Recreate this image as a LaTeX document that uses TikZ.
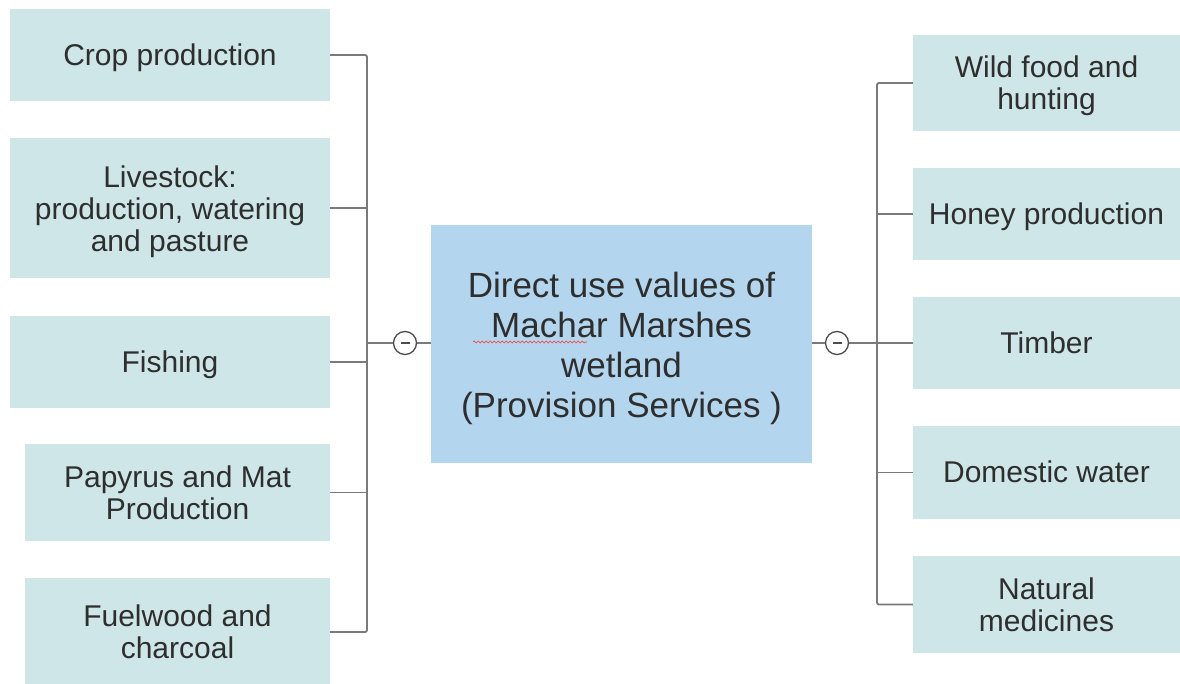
\documentclass[tikz,border=0pt]{standalone}
\usepackage{fontspec}
\setmainfont{Liberation Sans}
\usetikzlibrary{decorations.pathmorphing}
\definecolor{leafbg}{HTML}{CEE6E8}
\definecolor{rootbg}{HTML}{B3D6EE}
\definecolor{txt}{HTML}{2E2E2E}
\definecolor{conn}{HTML}{7A7A7A}
\tikzset{
  leaf/.style={rectangle, fill=leafbg, inner sep=0pt, align=center, text=txt,
    font=\fontsize{30}{32}\selectfont,
    execute at begin node={\rule{0pt}{0.905em}},
    execute at end node={\rule[-0.212em]{0pt}{0pt}}},
  twoline/.style={leaf, execute at begin node={\rule{0pt}{\dimexpr0.905em+33pt\relax}}},
  threeline/.style={leaf, execute at begin node={\rule{0pt}{\dimexpr0.905em+66pt\relax}}},
  root/.style={rectangle, fill=rootbg, inner sep=0pt, align=center, text=txt,
    font=\fontsize{35}{40}\selectfont, minimum width=381pt, minimum height=238pt,
    execute at begin node={\rule{0pt}{\dimexpr0.905em+123pt\relax}},
    execute at end node={\rule[-0.212em]{0pt}{0pt}}},
  toggle/.style={circle, draw=txt!85, fill=white, line width=1.3pt, minimum size=23pt, inner sep=0pt},
  link/.style={draw=conn, line width=1.8pt}
}
\begin{document}
\begin{tikzpicture}[x=1pt,y=-1pt]
\useasboundingbox (0,0) rectangle (1180,684);
\fill[white] (0,0) rectangle (1180,684);
% left leaves
\node[leaf, minimum width=320pt, minimum height=92pt] (crop) at (170,55) {Crop production};
\node[threeline, minimum width=320pt, minimum height=140pt] (live) at (170,208) {Livestock:\\production, watering\\and pasture};
\node[leaf, minimum width=320pt, minimum height=92pt] (fish) at (170,362) {Fishing};
\node[twoline, minimum width=305pt, minimum height=97pt] (papy) at (177.5,492.5) {Papyrus and Mat\\Production};
\node[twoline, minimum width=305pt, minimum height=108pt] (fuel) at (177.5,632) {Fuelwood and\\charcoal};
% right leaves
\node[twoline, minimum width=267pt, minimum height=96pt] (wild) at (1046.5,83) {Wild food and\\hunting};
\node[leaf, minimum width=267pt, minimum height=92pt] (honey) at (1046.5,214) {Honey production};
\node[leaf, minimum width=267pt, minimum height=92pt] (timber) at (1046.5,343) {Timber};
\node[leaf, minimum width=267pt, minimum height=93pt] (dom) at (1046.5,472.5) {Domestic water};
\node[twoline, minimum width=267pt, minimum height=97pt] (nat) at (1046.5,604.5) {Natural\\medicines};
% root
\node[root] (center) at (621.5,344) {Direct use values of\\Machar Marshes\\wetland\\(Provision Services )};
\draw[red!80, line width=0.6pt, decorate, decoration={snake, amplitude=1pt, segment length=4pt}] (473,342) -- (587,342);
% toggles
\node[toggle] (tl) at (405,343) {};
\node[toggle] (tr) at (837,343) {};
\draw[txt!85, line width=1.3pt] ([xshift=-4.5pt]tl.center) -- ([xshift=4.5pt]tl.center);
\draw[txt!85, line width=1.3pt] ([xshift=-4.5pt]tr.center) -- ([xshift=4.5pt]tr.center);
% trunks
\coordinate (lt) at (367,343);
\coordinate (rt) at (877,343);
\draw[link, rounded corners=2pt] (crop.east) -| (lt) |- (fuel.east);
\draw[link] (live.east) -- (live.east -| lt);
\draw[link] (fish.east) -- (fish.east -| lt);
\draw[link] (papy.east) -- (papy.east -| lt);
\draw[link] (lt) -- (tl.west);
\draw[link] (tl.east) -- (center.west |- tl.east);
\draw[link, rounded corners=2pt] (wild.west) -| (rt) |- (nat.west);
\draw[link] (honey.west) -- (honey.west -| rt);
\draw[link] (dom.west) -- (dom.west -| rt);
\draw[link] (timber.west) -- (tr.east);
\draw[link] (tr.west) -- (center.east |- tr.west);
\end{tikzpicture}
\end{document}
